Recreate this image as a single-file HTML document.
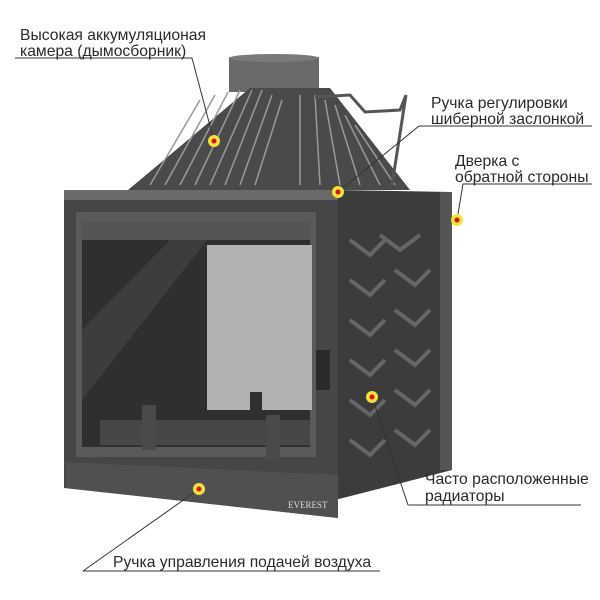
<!DOCTYPE html>
<html><head><meta charset="utf-8"><style>
html,body{margin:0;padding:0;background:#fff;width:600px;height:600px;overflow:hidden}
svg{display:block}
text{font-family:"Liberation Sans",sans-serif;font-size:15.7px;fill:#2a2a2a}
</style></head><body>
<svg width="600" height="600" viewBox="0 0 600 600">
<rect x="229" y="57" width="90" height="35" fill="#6a6a6a"/>
<ellipse cx="274" cy="58" rx="45" ry="4" fill="#7a7a7a"/>
<polygon points="250,88 330,88 410,190 128,190" fill="#4a4a4a"/>
<g stroke="#9a9a9a" stroke-width="1.5">
<line x1="150" y1="185" x2="200" y2="100"/><line x1="165" y1="185" x2="215" y2="95"/>
<line x1="180" y1="185" x2="228" y2="92"/><line x1="195" y1="185" x2="240" y2="90"/>
<line x1="210" y1="185" x2="252" y2="90"/><line x1="225" y1="185" x2="262" y2="90"/>
<line x1="240" y1="185" x2="272" y2="95"/><line x1="255" y1="185" x2="282" y2="100"/>
<line x1="300" y1="185" x2="300" y2="95"/><line x1="320" y1="185" x2="315" y2="95"/>
<line x1="340" y1="185" x2="325" y2="100"/><line x1="360" y1="185" x2="335" y2="105"/>
<line x1="380" y1="185" x2="345" y2="115"/><line x1="395" y1="185" x2="355" y2="125"/>
</g>
<polyline points="315,97 350,95 365,112 400,110 406,95 392,185" fill="none" stroke="#555" stroke-width="3"/>
<polygon points="335,190 452,192 452,470 335,500" fill="#3c3c3c"/>
<g stroke="#666" stroke-width="4" fill="none">
<polyline points="350,240 370,255 385,240"/><polyline points="380,235 400,250 420,235"/>
<polyline points="350,280 370,295 385,280"/><polyline points="395,270 415,285 430,270"/>
<polyline points="350,320 370,335 385,320"/><polyline points="395,310 415,325 430,310"/>
<polyline points="350,360 370,375 385,360"/><polyline points="395,350 415,365 430,350"/>
<polyline points="350,400 370,415 385,400"/><polyline points="395,390 415,405 430,390"/>
<polyline points="350,440 370,455 385,440"/><polyline points="395,430 415,445 430,430"/>
</g>
<rect x="440" y="192" width="12" height="278" fill="#555"/>
<polygon points="64,190 338,190 338,518 64,488" fill="#464646"/>
<rect x="64" y="190" width="274" height="10" fill="#6a6a6a"/>
<rect x="76" y="212" width="240" height="245" fill="#5a5a5a"/>
<rect x="82" y="222" width="228" height="225" fill="#2f2f2f"/>
<polygon points="82,222 310,222 310,240 82,240" fill="#555"/>
<polygon points="82,330 170,240 207,240 82,400" fill="#3d3d3d"/>
<polygon points="207,245 312,245 312,410 262,410 262,392 250,392 250,410 207,410" fill="#b2b2b2"/>
<rect x="100" y="420" width="210" height="25" fill="#474747"/>
<rect x="142" y="405" width="14" height="45" fill="#4a4a4a"/>
<rect x="266" y="415" width="14" height="45" fill="#4a4a4a"/>
<polygon points="66,462 338,475 338,518 66,488" fill="#505050"/>
<rect x="316" y="350" width="14" height="40" fill="#2a2a2a"/>
<text x="288" y="508" style="font-size:9px;fill:#ddd;font-family:'Liberation Serif',serif">EVEREST</text>
<g stroke="#333" stroke-width="1" fill="none">
<line x1="15" y1="58" x2="192" y2="58"/><line x1="192" y1="58" x2="214" y2="141"/>
<line x1="419" y1="126" x2="592" y2="126"/><line x1="419" y1="126" x2="338" y2="192"/>
<line x1="463" y1="184" x2="592" y2="184"/><line x1="463" y1="184" x2="457" y2="220"/>
<line x1="408" y1="505" x2="581" y2="505"/><line x1="408" y1="505" x2="372" y2="397"/>
<line x1="83" y1="571" x2="380" y2="571"/><line x1="83" y1="571" x2="199" y2="489"/>
</g>
<g>
<circle cx="214" cy="141" r="6" fill="#f2e33a"/><circle cx="214" cy="141" r="2.5" fill="#e01010"/>
<circle cx="338" cy="192" r="6" fill="#f2e33a"/><circle cx="338" cy="192" r="2.5" fill="#e01010"/>
<circle cx="457" cy="220" r="6" fill="#f2e33a"/><circle cx="457" cy="220" r="2.5" fill="#e01010"/>
<circle cx="372" cy="397" r="6" fill="#f2e33a"/><circle cx="372" cy="397" r="2.5" fill="#e01010"/>
<circle cx="199" cy="489" r="6" fill="#f2e33a"/><circle cx="199" cy="489" r="2.5" fill="#e01010"/>
</g>
<text x="20" y="40">Высокая аккумуляционая</text>
<text x="20" y="56">камера (дымосборник)</text>
<text x="431" y="108">Ручка регулировки</text>
<text x="431" y="124">шиберной заслонкой</text>
<text x="455" y="166">Дверка с</text>
<text x="455" y="182">обратной стороны</text>
<text x="425" y="484">Часто расположенные</text>
<text x="425" y="501">радиаторы</text>
<text x="113" y="567">Ручка управления подачей воздуха</text>
</svg>
</body></html>
